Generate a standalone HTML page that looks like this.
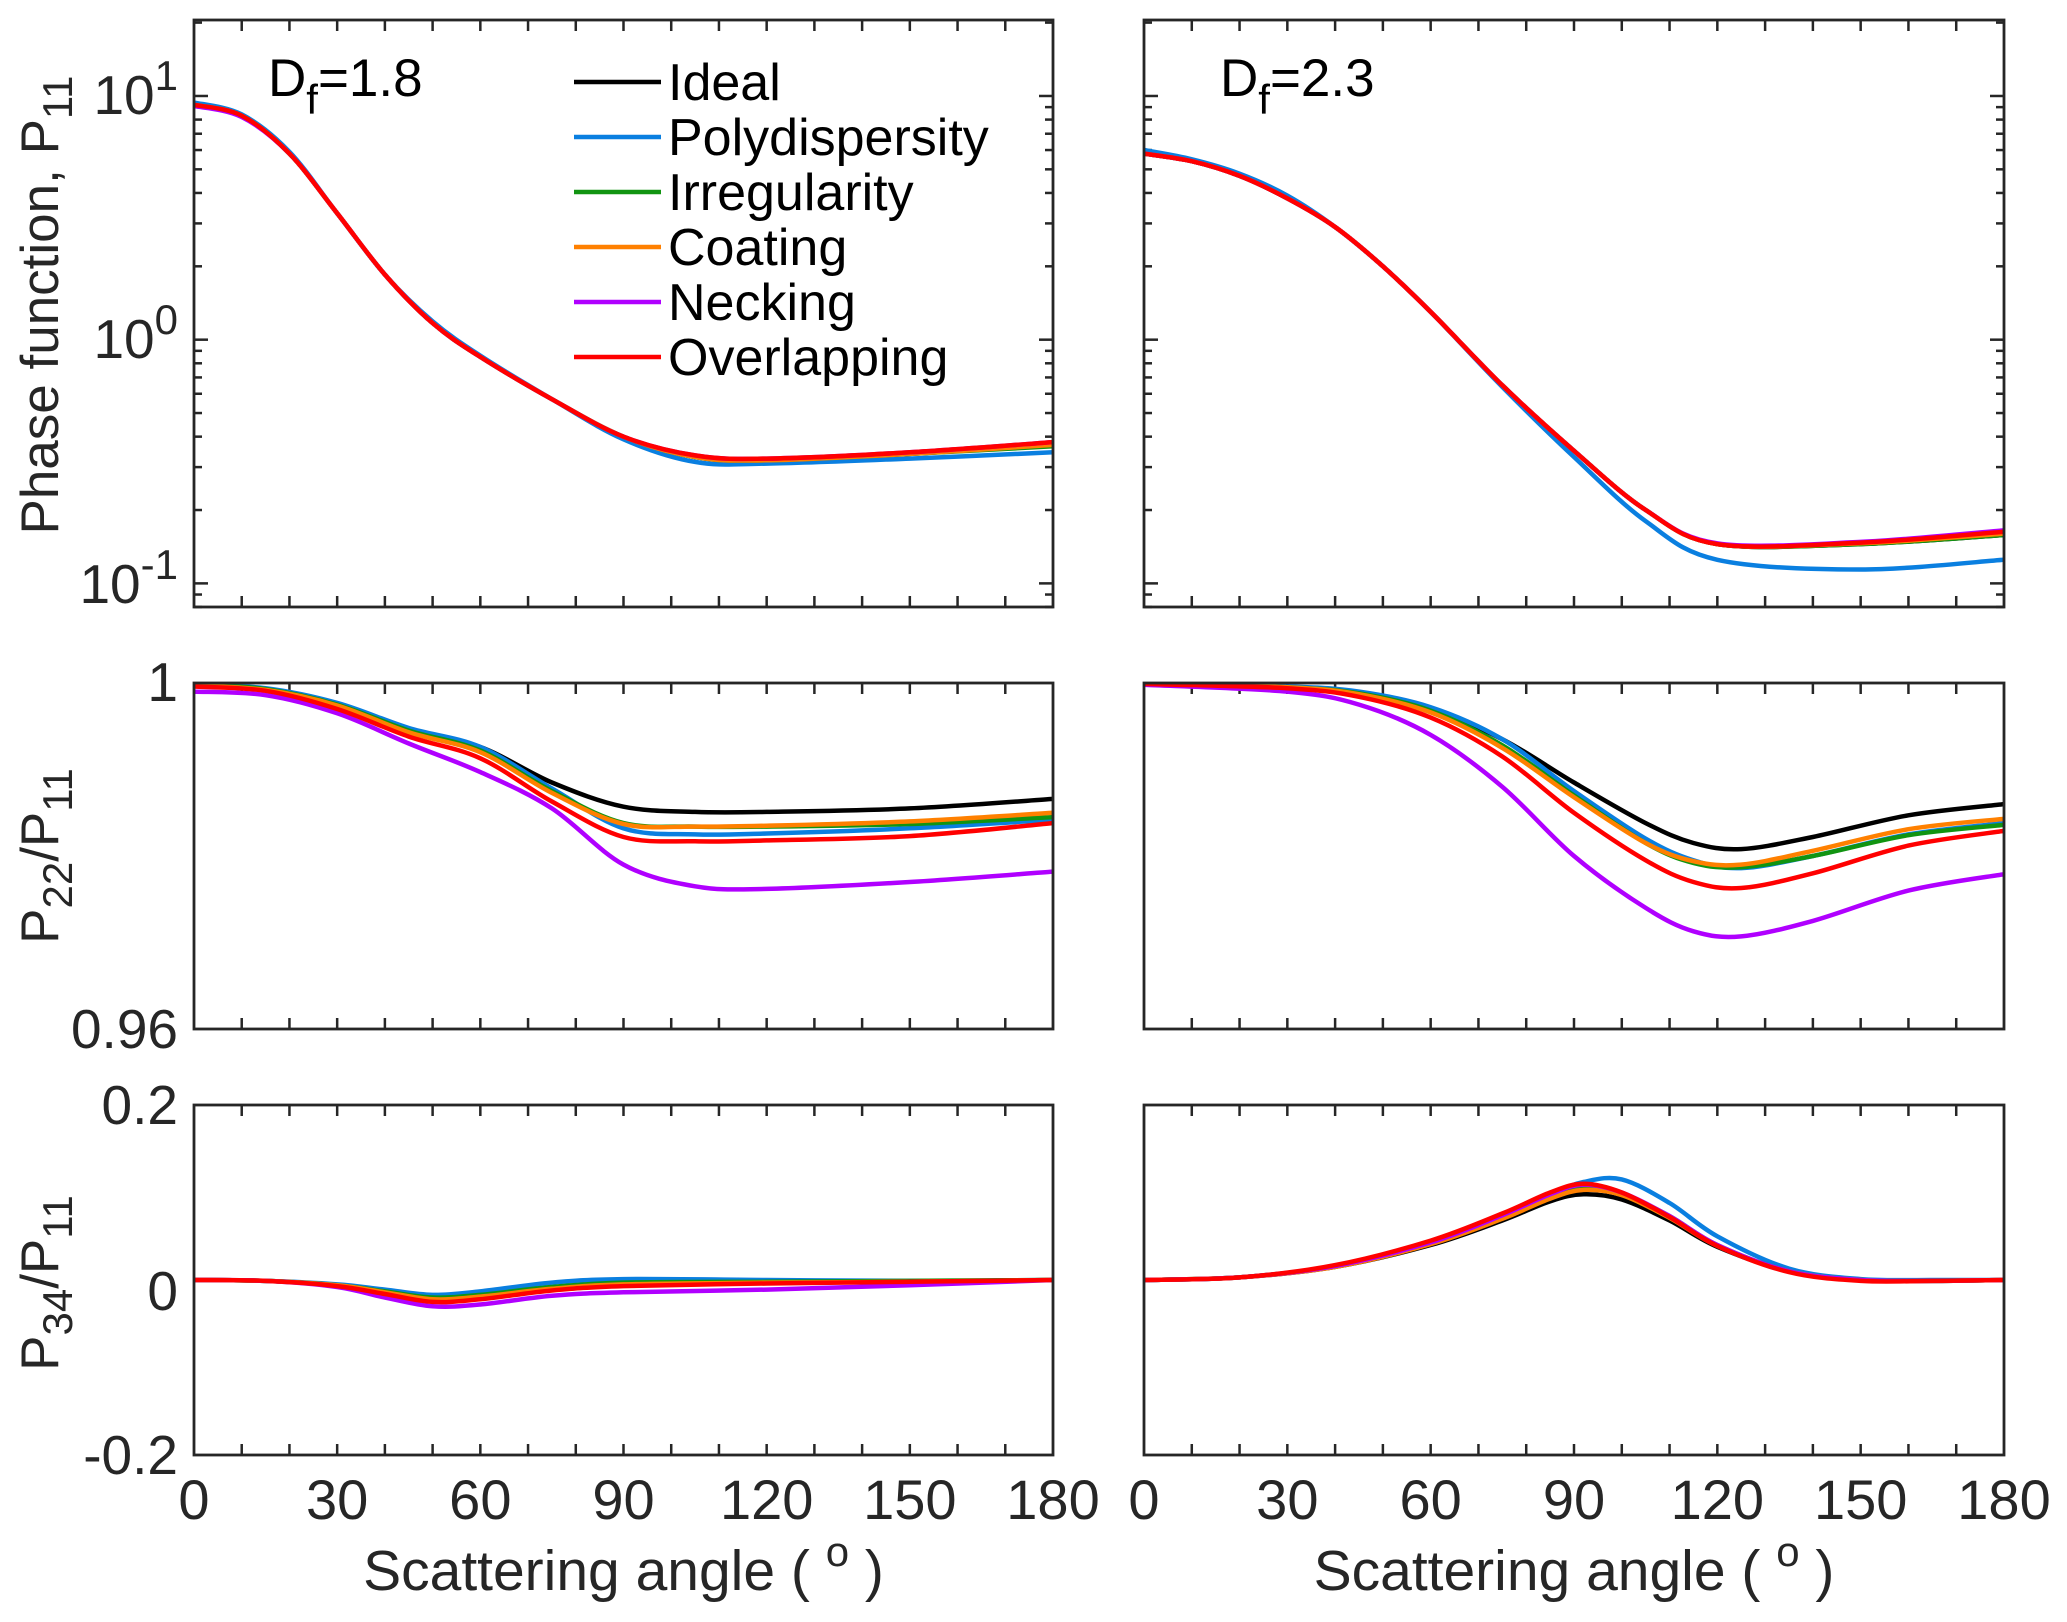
<!DOCTYPE html>
<html><head><meta charset="utf-8"><style>
body{margin:0;background:#fff}
svg{display:block;font-family:"Liberation Sans",Arial,sans-serif}
</style></head><body>
<svg id="fig" width="2067" height="1622" viewBox="0 0 2067 1622" xmlns="http://www.w3.org/2000/svg"></svg>
<script>
// ---- data ----
const seriesNames = ["Ideal","Polydispersity","Irregularity","Coating","Necking","Overlapping"];
const seriesColors = ["#000000","#0a7fe0","#119411","#ff8000","#b000ff","#ff0000"];
const xTicks = [0,30,60,90,120,150,180];

const anglesP11 = [0,10,20,30,40,50,60,75,90,105,120,150,180];
const p11L_ideal = [9.2,8.3,5.8,3.3,1.85,1.17,0.85,0.57,0.40,0.33,0.32,0.34,0.37];
const p11L_poly  = [9.4,8.4,5.9,3.3,1.85,1.19,0.86,0.57,0.39,0.315,0.31,0.325,0.345];
const p11L_irr   = [9.2,8.3,5.8,3.3,1.85,1.17,0.85,0.57,0.40,0.33,0.32,0.34,0.365];
const p11L_coat  = [9.2,8.3,5.8,3.3,1.85,1.17,0.85,0.57,0.40,0.33,0.32,0.34,0.37];
const p11L_neck  = [9.1,8.2,5.8,3.3,1.85,1.17,0.85,0.57,0.40,0.335,0.325,0.345,0.38];
const p11L_over  = [9.2,8.3,5.8,3.3,1.85,1.17,0.85,0.57,0.40,0.335,0.325,0.345,0.38];

const p11R_ideal = [5.8,5.4,4.7,3.8,2.9,2.0,1.3,0.65,0.35,0.20,0.145,0.145,0.158];
const p11R_poly  = [6.0,5.5,4.8,3.9,2.9,2.0,1.3,0.64,0.33,0.18,0.125,0.114,0.125];
const p11R_irr   = [5.8,5.4,4.7,3.8,2.9,2.0,1.3,0.65,0.35,0.20,0.145,0.145,0.158];
const p11R_coat  = [5.8,5.4,4.7,3.8,2.9,2.0,1.3,0.65,0.35,0.20,0.145,0.146,0.16];
const p11R_neck  = [5.8,5.4,4.7,3.8,2.9,2.0,1.3,0.65,0.35,0.20,0.146,0.148,0.165];
const p11R_over  = [5.8,5.4,4.7,3.8,2.9,2.0,1.3,0.65,0.35,0.20,0.145,0.147,0.163];

const anglesP22L = [0,15,30,45,60,75,90,105,120,150,180];
const p22L_ideal = [0.9997,0.9993,0.9975,0.9946,0.9926,0.9885,0.9857,0.9851,0.9851,0.9855,0.9866];
const p22L_poly  = [0.9998,0.9994,0.9977,0.9948,0.9926,0.9878,0.9832,0.9825,0.9826,0.9832,0.9842];
const p22L_irr   = [0.9998,0.9993,0.9975,0.9945,0.9922,0.9875,0.9838,0.9834,0.9834,0.9837,0.9845];
const p22L_coat  = [0.9997,0.9992,0.9974,0.9943,0.9920,0.9873,0.9837,0.9834,0.9835,0.9840,0.9850];
const p22L_neck  = [0.9990,0.9986,0.9965,0.9930,0.9897,0.9855,0.9790,0.9765,0.9762,0.9770,0.9782];
const p22L_over  = [0.9996,0.9991,0.9970,0.9938,0.9913,0.9863,0.9822,0.9817,0.9818,0.9823,0.9838];

const anglesP22R = [0,30,45,60,75,90,105,115,125,140,160,180];
const p22R_ideal = [0.9999,0.9995,0.9988,0.9970,0.9935,0.9885,0.9838,0.9815,0.9808,0.9822,0.9847,0.9860];
const p22R_poly  = [0.9999,0.9996,0.9990,0.9972,0.9935,0.9875,0.9820,0.9795,0.9786,0.9800,0.9825,0.9838];
const p22R_irr   = [0.9999,0.9995,0.9988,0.9968,0.9928,0.9870,0.9815,0.9792,0.9787,0.9800,0.9824,0.9836];
const p22R_coat  = [0.9999,0.9995,0.9987,0.9966,0.9925,0.9868,0.9815,0.9794,0.9790,0.9806,0.9831,0.9843];
const p22R_neck  = [0.9998,0.9990,0.9975,0.9940,0.9880,0.9800,0.9740,0.9713,0.9707,0.9725,0.9760,0.9779];
const p22R_over  = [0.9999,0.9994,0.9984,0.9960,0.9915,0.9850,0.9795,0.9770,0.9763,0.9780,0.9812,0.9829];

const anglesP34L = [0,15,30,40,50,60,75,90,120,150,180];
const p34L_ideal = [0,-0.001,-0.006,-0.014,-0.021,-0.018,-0.009,-0.005,-0.003,-0.002,0];
const p34L_poly  = [0,-0.001,-0.005,-0.011,-0.017,-0.013,-0.003,0.001,0,-0.001,0];
const p34L_irr   = [0,-0.001,-0.006,-0.013,-0.020,-0.017,-0.008,-0.003,-0.002,-0.001,0];
const p34L_coat  = [0,-0.001,-0.006,-0.014,-0.022,-0.019,-0.010,-0.005,-0.003,-0.002,0];
const p34L_neck  = [0,-0.001,-0.008,-0.020,-0.030,-0.028,-0.018,-0.014,-0.011,-0.006,0];
const p34L_over  = [0,-0.001,-0.007,-0.016,-0.025,-0.022,-0.012,-0.007,-0.004,-0.002,0];

const anglesP34R = [0,20,40,60,75,85,92,100,110,120,135,150,165,180];
const p34R_ideal = [0,0.003,0.015,0.040,0.068,0.090,0.098,0.092,0.068,0.038,0.010,0.000,-0.001,0];
const p34R_poly  = [0,0.003,0.016,0.042,0.072,0.098,0.112,0.115,0.088,0.050,0.013,0.001,0,0];
const p34R_irr   = [0,0.003,0.016,0.043,0.073,0.096,0.106,0.099,0.073,0.040,0.010,0,-0.001,0];
const p34R_coat  = [0,0.003,0.015,0.041,0.070,0.093,0.103,0.097,0.071,0.039,0.010,0,-0.001,0];
const p34R_neck  = [0,0.003,0.016,0.043,0.074,0.098,0.109,0.100,0.073,0.040,0.010,0,-0.001,0];
const p34R_over  = [0,0.003,0.017,0.045,0.076,0.100,0.110,0.100,0.072,0.039,0.009,-0.001,-0.001,0];

// ---- layout ----
const NS="http://www.w3.org/2000/svg";
const svg=document.getElementById('fig');
function el(tag,attrs,parent){const e=document.createElementNS(NS,tag);for(const k in attrs)e.setAttribute(k,attrs[k]);(parent||svg).appendChild(e);return e;}
const cols=[{x0:194,x1:1053},{x0:1144,x1:2004}];
const rows=[{y0:20,y1:607,log:true,min:Math.log10(0.08),max:Math.log10(20.5)},
            {y0:683,y1:1029,log:false,min:0.96,max:1.0},
            {y0:1105,y1:1455,log:false,min:-0.2,max:0.2}];
const panelData=[
 [[anglesP11,[p11L_ideal,p11L_poly,p11L_irr,p11L_coat,p11L_neck,p11L_over]],[anglesP11,[p11R_ideal,p11R_poly,p11R_irr,p11R_coat,p11R_neck,p11R_over]]],
 [[anglesP22L,[p22L_ideal,p22L_poly,p22L_irr,p22L_coat,p22L_neck,p22L_over]],[anglesP22R,[p22R_ideal,p22R_poly,p22R_irr,p22R_coat,p22R_neck,p22R_over]]],
 [[anglesP34L,[p34L_ideal,p34L_poly,p34L_irr,p34L_coat,p34L_neck,p34L_over]],[anglesP34R,[p34R_ideal,p34R_poly,p34R_irr,p34R_coat,p34R_neck,p34R_over]]]
];
function smoothPath(pts){
  let d=`M${pts[0][0].toFixed(1)},${pts[0][1].toFixed(1)}`;
  for(let i=0;i<pts.length-1;i++){
    const p0=pts[Math.max(i-1,0)],p1=pts[i],p2=pts[i+1],p3=pts[Math.min(i+2,pts.length-1)];
    const c1=[p1[0]+(p2[0]-p0[0])/6,p1[1]+(p2[1]-p0[1])/6];
    const c2=[p2[0]-(p3[0]-p1[0])/6,p2[1]-(p3[1]-p1[1])/6];
    d+=` C${c1[0].toFixed(1)},${c1[1].toFixed(1)} ${c2[0].toFixed(1)},${c2[1].toFixed(1)} ${p2[0].toFixed(1)},${p2[1].toFixed(1)}`;
  }
  return d;
}
const AX="#262626";
rows.forEach((r,ri)=>{
  cols.forEach((c,ci)=>{
    const xs=a=>c.x0+(c.x1-c.x0)*a/180;
    const ys=v=>{const t=r.log?Math.log10(v):v;return r.y1-(r.y1-r.y0)*(t-r.min)/(r.max-r.min);};
    const g=el('g',{});
    
    
    el('clipPath',{id:`cp${ri}${ci}`},g);
    el('rect',{x:c.x0,y:r.y0,width:c.x1-c.x0,height:r.y1-r.y0},g.lastChild);
    for(let a=10;a<180;a+=10){
      el('line',{x1:xs(a),x2:xs(a),y1:r.y1,y2:r.y1-11,stroke:AX,'stroke-width':2.5},g);
      el('line',{x1:xs(a),x2:xs(a),y1:r.y0,y2:r.y0+11,stroke:AX,'stroke-width':2.5},g);
    }
    if(r.log){
      for(let e=-2;e<=1;e++)for(let m=1;m<10;m++){
        const v=m*Math.pow(10,e);const y=ys(v);
        if(y<r.y0||y>r.y1)continue;
        const L=m===1?14:8;
        el('line',{x1:c.x0,x2:c.x0+L,y1:y,y2:y,stroke:AX,'stroke-width':2.5},g);
        el('line',{x1:c.x1,x2:c.x1-L,y1:y,y2:y,stroke:AX,'stroke-width':2.5},g);
      }
    }
    const [ang,ser]=panelData[ri][ci];
    const sg=el('g',{'clip-path':`url(#cp${ri}${ci})`},g);
    ser.forEach((vals,si)=>{
      const p=el('path',{d:smoothPath(ang.map((a,i)=>[xs(a),ys(vals[i])])),fill:'none',stroke:seriesColors[si],'stroke-width':4.5,'stroke-linejoin':'round'},sg);
      
      
    });
    const fr=el('rect',{x:c.x0,y:r.y0,width:c.x1-c.x0,height:r.y1-r.y0,fill:'none',stroke:AX,'stroke-width':2.8},g);
    
    
    if(ri===2){
      xTicks.forEach(t=>{
        const tx=el('text',{x:xs(t),y:r.y1+64,'text-anchor':'middle','font-size':56,fill:AX},svg);
        tx.textContent=t;
        
        
      });
      const xt=el('text',{x:(c.x0+c.x1)/2,y:1590,'text-anchor':'middle','font-size':57,fill:AX},svg);
      xt.innerHTML='Scattering angle ( <tspan dy="-24" font-size="42">o</tspan><tspan dy="24"> )</tspan>';
      
      
    }
  });
});
</script>
<script>
const T=(html,attrs,name)=>{const t=document.createElementNS(NS,'text');for(const k in attrs)t.setAttribute(k,attrs[k]);t.innerHTML=html;svg.appendChild(t);return t;};
const yt=[["10<tspan dy='-24' font-size='42'>1</tspan>",114],["10<tspan dy='-24' font-size='42'>0</tspan>",358],["10<tspan dy='-24' font-size='42'>-1</tspan>",603],["1",701],["0.96",1048],["0.2",1124],["0",1310],["-0.2",1474]];
yt.forEach(([h,y])=>T(h,{x:178,y:y,'text-anchor':'end','font-size':55,fill:AX},'y-tick-label'));
T("Phase function, P<tspan dy='14' font-size='42'>11</tspan>",{transform:'translate(58,305) rotate(-90)','text-anchor':'middle','font-size':53,fill:AX},'y-axis-title-p11');
T("P<tspan dy='14' font-size='42'>22</tspan><tspan dy='-14'>/P</tspan><tspan dy='14' font-size='42'>11</tspan>",{transform:'translate(58,856) rotate(-90)','text-anchor':'middle','font-size':53,fill:AX},'y-axis-title-p22');
T("P<tspan dy='14' font-size='42'>34</tspan><tspan dy='-14'>/P</tspan><tspan dy='14' font-size='42'>11</tspan>",{transform:'translate(58,1283) rotate(-90)','text-anchor':'middle','font-size':53,fill:AX},'y-axis-title-p34');
T("D<tspan dy='18' font-size='42'>f</tspan><tspan dy='-18'>=1.8</tspan>",{x:268,y:96,'font-size':53,fill:'#000'},'df-label-left');
T("D<tspan dy='18' font-size='42'>f</tspan><tspan dy='-18'>=2.3</tspan>",{x:1220,y:96,'font-size':53,fill:'#000'},'df-label-right');
const lg=document.createElementNS(NS,'g');svg.appendChild(lg);


seriesNames.forEach((n,i)=>{
  const y=82+i*55;
  const l=document.createElementNS(NS,'line');
  l.setAttribute('x1',574);l.setAttribute('x2',661);l.setAttribute('y1',y);l.setAttribute('y2',y);
  l.setAttribute('stroke',seriesColors[i]);l.setAttribute('stroke-width',4.5);lg.appendChild(l);
  
  
  const t=document.createElementNS(NS,'text');
  t.setAttribute('x',668);t.setAttribute('y',y+18);t.setAttribute('font-size',52);t.setAttribute('fill','#000');
  t.textContent=n;lg.appendChild(t);
  
  
});
</script>
</body></html>
